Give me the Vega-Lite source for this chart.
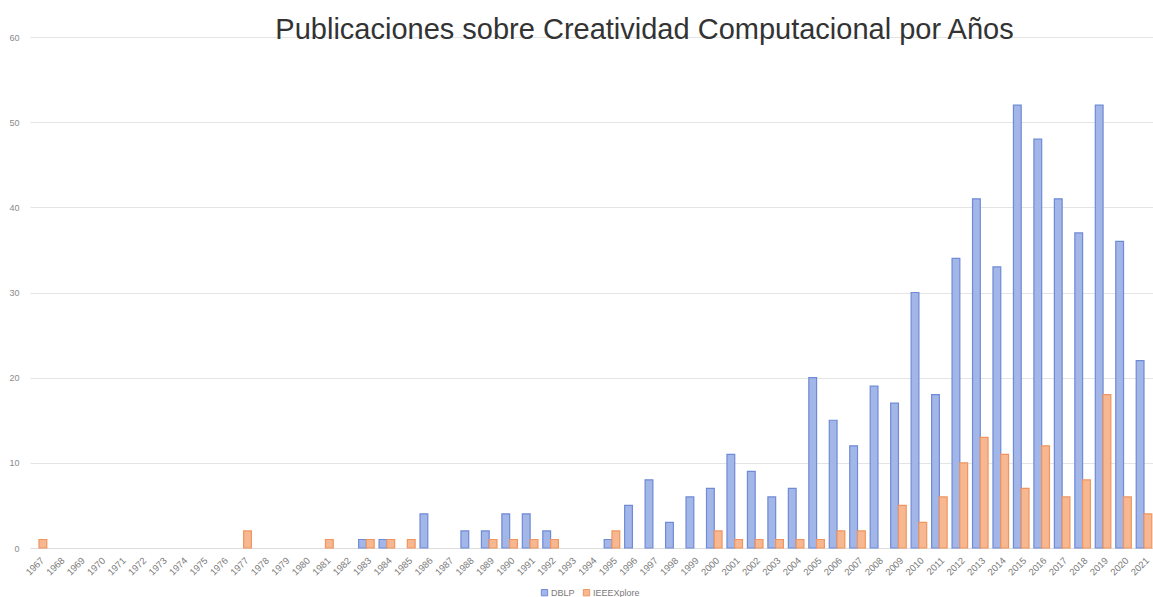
{
  "$schema": "https://vega.github.io/schema/vega-lite/v6.json",
  "autosize": {"type": "none"},
  "width": 1123,
  "height": 511,
  "padding": {"left": 30, "top": 37, "right": 0, "bottom": 49},
  "background": "#ffffff",
  "title": {
    "text": "Publicaciones sobre Creatividad Computacional por Años",
    "font": "Liberation Sans",
    "fontSize": 29,
    "fontWeight": "normal",
    "color": "#333333",
    "anchor": "middle",
    "baseline": "alphabetic",
    "dx": 53,
    "offset": -35
  },
  "data": {
    "values": [
      {"year": "1967", "source": "IEEEXplore", "value": 1},
      {"year": "1977", "source": "IEEEXplore", "value": 2},
      {"year": "1981", "source": "IEEEXplore", "value": 1},
      {"year": "1983", "source": "DBLP", "value": 1},
      {"year": "1983", "source": "IEEEXplore", "value": 1},
      {"year": "1984", "source": "DBLP", "value": 1},
      {"year": "1984", "source": "IEEEXplore", "value": 1},
      {"year": "1985", "source": "IEEEXplore", "value": 1},
      {"year": "1986", "source": "DBLP", "value": 4},
      {"year": "1988", "source": "DBLP", "value": 2},
      {"year": "1989", "source": "DBLP", "value": 2},
      {"year": "1989", "source": "IEEEXplore", "value": 1},
      {"year": "1990", "source": "DBLP", "value": 4},
      {"year": "1990", "source": "IEEEXplore", "value": 1},
      {"year": "1991", "source": "DBLP", "value": 4},
      {"year": "1991", "source": "IEEEXplore", "value": 1},
      {"year": "1992", "source": "DBLP", "value": 2},
      {"year": "1992", "source": "IEEEXplore", "value": 1},
      {"year": "1995", "source": "DBLP", "value": 1},
      {"year": "1995", "source": "IEEEXplore", "value": 2},
      {"year": "1996", "source": "DBLP", "value": 5},
      {"year": "1997", "source": "DBLP", "value": 8},
      {"year": "1998", "source": "DBLP", "value": 3},
      {"year": "1999", "source": "DBLP", "value": 6},
      {"year": "2000", "source": "DBLP", "value": 7},
      {"year": "2000", "source": "IEEEXplore", "value": 2},
      {"year": "2001", "source": "DBLP", "value": 11},
      {"year": "2001", "source": "IEEEXplore", "value": 1},
      {"year": "2002", "source": "DBLP", "value": 9},
      {"year": "2002", "source": "IEEEXplore", "value": 1},
      {"year": "2003", "source": "DBLP", "value": 6},
      {"year": "2003", "source": "IEEEXplore", "value": 1},
      {"year": "2004", "source": "DBLP", "value": 7},
      {"year": "2004", "source": "IEEEXplore", "value": 1},
      {"year": "2005", "source": "DBLP", "value": 20},
      {"year": "2005", "source": "IEEEXplore", "value": 1},
      {"year": "2006", "source": "DBLP", "value": 15},
      {"year": "2006", "source": "IEEEXplore", "value": 2},
      {"year": "2007", "source": "DBLP", "value": 12},
      {"year": "2007", "source": "IEEEXplore", "value": 2},
      {"year": "2008", "source": "DBLP", "value": 19},
      {"year": "2009", "source": "DBLP", "value": 17},
      {"year": "2009", "source": "IEEEXplore", "value": 5},
      {"year": "2010", "source": "DBLP", "value": 30},
      {"year": "2010", "source": "IEEEXplore", "value": 3},
      {"year": "2011", "source": "DBLP", "value": 18},
      {"year": "2011", "source": "IEEEXplore", "value": 6},
      {"year": "2012", "source": "DBLP", "value": 34},
      {"year": "2012", "source": "IEEEXplore", "value": 10},
      {"year": "2013", "source": "DBLP", "value": 41},
      {"year": "2013", "source": "IEEEXplore", "value": 13},
      {"year": "2014", "source": "DBLP", "value": 33},
      {"year": "2014", "source": "IEEEXplore", "value": 11},
      {"year": "2015", "source": "DBLP", "value": 52},
      {"year": "2015", "source": "IEEEXplore", "value": 7},
      {"year": "2016", "source": "DBLP", "value": 48},
      {"year": "2016", "source": "IEEEXplore", "value": 12},
      {"year": "2017", "source": "DBLP", "value": 41},
      {"year": "2017", "source": "IEEEXplore", "value": 6},
      {"year": "2018", "source": "DBLP", "value": 37},
      {"year": "2018", "source": "IEEEXplore", "value": 8},
      {"year": "2019", "source": "DBLP", "value": 52},
      {"year": "2019", "source": "IEEEXplore", "value": 18},
      {"year": "2020", "source": "DBLP", "value": 36},
      {"year": "2020", "source": "IEEEXplore", "value": 6},
      {"year": "2021", "source": "DBLP", "value": 22},
      {"year": "2021", "source": "IEEEXplore", "value": 4}
    ]
  },
  "mark": {"type": "bar", "strokeWidth": 1.2},
  "encoding": {
    "x": {
      "field": "year",
      "type": "ordinal",
      "scale": {
        "domain": ["1967","1968","1969","1970","1971","1972","1973","1974","1975","1976","1977","1978","1979","1980","1981","1982","1983","1984","1985","1986","1987","1988","1989","1990","1991","1992","1993","1994","1995","1996","1997","1998","1999","2000","2001","2002","2003","2004","2005","2006","2007","2008","2009","2010","2011","2012","2013","2014","2015","2016","2017","2018","2019","2020","2021"],
        "paddingInner": 0.24,
        "paddingOuter": 0.06
      },
      "axis": {
        "title": null,
        "labelAngle": -45,
        "labelFont": "Liberation Sans",
        "labelFontSize": 9.5,
        "labelColor": "#7a7a7a",
        "labelPadding": 7,
        "ticks": false,
        "domainColor": "#dddddd",
        "grid": false
      }
    },
    "xOffset": {"field": "source", "type": "nominal", "sort": ["DBLP", "IEEEXplore"]},
    "y": {
      "field": "value",
      "type": "quantitative",
      "scale": {"domain": [0, 60]},
      "axis": {
        "title": null,
        "values": [0, 10, 20, 30, 40, 50, 60],
        "labelFont": "Liberation Sans",
        "labelFontSize": 9,
        "labelColor": "#8a8a8a",
        "labelPadding": 11,
        "ticks": false,
        "domain": false,
        "gridColor": "#e4e4e4",
        "gridWidth": 1
      }
    },
    "color": {
      "field": "source",
      "type": "nominal",
      "scale": {"domain": ["DBLP", "IEEEXplore"], "range": ["#a3b6e8", "#f7b891"]},
      "legend": {
        "title": null,
        "orient": "none",
        "legendX": 510,
        "legendY": 551,
        "direction": "horizontal",
        "symbolType": "square",
        "symbolSize": 40,
        "symbolStrokeWidth": 1,
        "labelFont": "Liberation Sans",
        "labelFontSize": 9,
        "labelColor": "#7a7a7a",
        "labelOffset": 2,
        "columnPadding": 6
      }
    },
    "stroke": {
      "field": "source",
      "type": "nominal",
      "scale": {"domain": ["DBLP", "IEEEXplore"], "range": ["#6f8ad6", "#f0955f"]},
      "legend": null
    }
  },
  "config": {
    "view": {"stroke": null}
  }
}
